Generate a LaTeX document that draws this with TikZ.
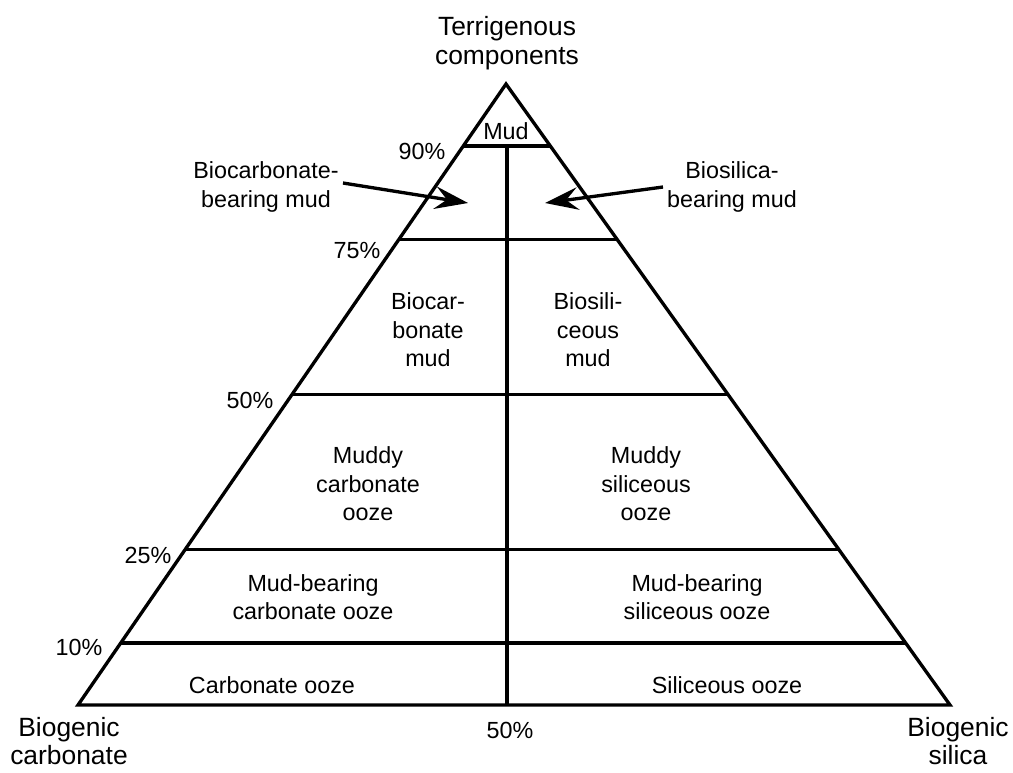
\documentclass[tikz,border=0pt]{standalone}
\usepackage{fontspec}
\setmainfont{Liberation Sans}
\usetikzlibrary{arrows.meta,calc}
\begin{document}
\begin{tikzpicture}[x=0.75pt,y=-0.75pt,
  edge/.style={line width=2.5pt},
  lbl/.style={align=center,font=\fontsize{17.5}{21.4}\selectfont,inner sep=0pt},
  big/.style={align=center,font=\fontsize{19.8}{21.5}\selectfont,inner sep=0pt},
  pct/.style={font=\fontsize{17.5}{21}\selectfont,inner sep=0pt},
  ptr/.style={line width=2.5pt,-{Stealth[length=25pt,width=17pt,inset=9pt]}}]
\useasboundingbox (0,0) rectangle (1013,772);
% triangle
\coordinate (A) at (506,84);
\coordinate (L) at (78,705);
\coordinate (R) at (950,705);
\draw[edge] (A) -- (L) -- (R) -- cycle;
\foreach \t/\n in {0.1/a,0.25/b,0.5/c,0.75/d,0.9/e}{
  \coordinate (l\n) at ($(A)!\t!(L)$);
  \coordinate (r\n) at ($(A)!\t!(R)$);
  \draw[edge] (l\n) -- (r\n);
}
\coordinate (vtop) at (507,146);
\coordinate (vbot) at (vtop |- L);
\draw[edge] (vtop) -- (vbot);
% vertex labels
\node[big] (terr) at (507,43) {Terrigenous\\components};
\node[big] (bcarb) at (69,741) {Biogenic\\carbonate};
\node[big] (bsil) at (958,741) {Biogenic\\silica};
% percentages
\node[pct] (p90) at (422,151) {90\%};
\node[pct] (p75) at (357,251) {75\%};
\node[pct] (p50) at (250,400) {50\%};
\node[pct] (p25) at (148,555) {25\%};
\node[pct] (p10) at (79,647) {10\%};
\node[pct] (p50b) at (510,730) {50\%};
% field labels
\node[lbl] (mud) at (506,131) {Mud};
\node[lbl] (bcbm) at (266,187) {Biocarbonate-\\bearing mud};
\node[lbl] (bsbm) at (732,187) {Biosilica-\\bearing mud};
\node[lbl] (bcm) at (428,330) {Biocar-\\bonate\\mud};
\node[lbl] (bsm) at (588,330) {Biosili-\\ceous\\mud};
\node[lbl] (mco) at (368,484) {Muddy\\carbonate\\ooze};
\node[lbl] (mso) at (646,484) {Muddy\\siliceous\\ooze};
\node[lbl] (mbco) at (313,597) {Mud-bearing\\carbonate ooze};
\node[lbl] (mbso) at (697,597) {Mud-bearing\\siliceous ooze};
\node[lbl] (co) at (272,685) {Carbonate ooze};
\node[lbl] (so) at (727,685) {Siliceous ooze};
% arrows
\coordinate (ltail) at (343,183);
\coordinate (ltip) at (468,203);
\coordinate (rtail) at (663,187);
\coordinate (rtip) at (545,203);
\draw[ptr] (ltail) -- (ltip);
\draw[ptr] (rtail) -- (rtip);
\end{tikzpicture}
\end{document}
